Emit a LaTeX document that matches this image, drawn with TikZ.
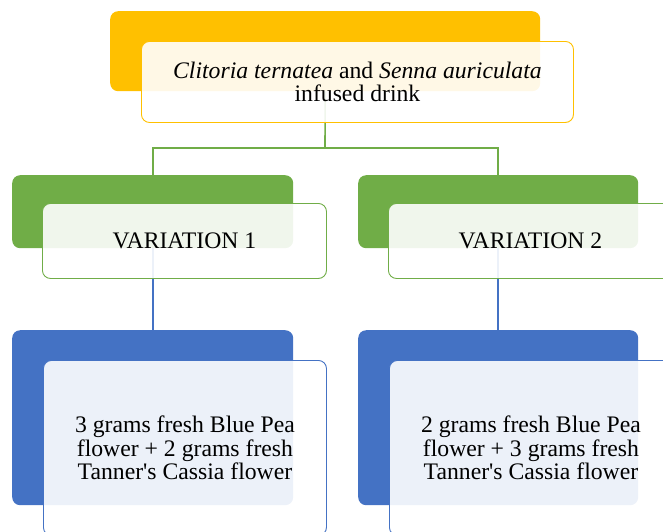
\documentclass[tikz,border=0pt]{standalone}
\usepackage{fontspec}
\setmainfont{Liberation Serif}[Ligatures=TeXOff]
\definecolor{cOrange}{HTML}{FFC000}
\definecolor{cGreen}{HTML}{70AD47}
\definecolor{cBlue}{HTML}{4472C4}
\tikzset{
  back/.style={draw=none, rounded corners=8pt, inner sep=0pt, anchor=north west},
  front/.style={rounded corners=8pt, inner sep=0pt, anchor=north west, fill=white, fill opacity=0.9, text opacity=1, line width=0.9pt, align=center, font=\rmfamily\fontsize{23.7}{23.5}\selectfont},
  conn/.style={line width=1.6pt}
}
\begin{document}
\begin{tikzpicture}[x=1pt,y=-1pt]
\useasboundingbox (0,0) rectangle (663,531);
\clip (0,0) rectangle (663,531);
% back boxes
\node[back, fill=cOrange, minimum width=430pt, minimum height=80pt] (topback) at (110,11) {};
\node[back, fill=cGreen, minimum width=281pt, minimum height=73pt] (v1back) at (12,175) {};
\node[back, fill=cGreen, minimum width=280pt, minimum height=73pt] (v2back) at (358,175) {};
\node[back, fill=cBlue, minimum width=281pt, minimum height=175pt] (d1back) at (12,330) {};
\node[back, fill=cBlue, minimum width=280pt, minimum height=175pt] (d2back) at (358,330) {};
% connectors
\coordinate (hj) at (325,148);
\draw[conn, cGreen] (topback.south) -- (hj);
\draw[conn, cGreen] (hj) -| (v1back.north);
\draw[conn, cGreen] (hj) -| (v2back.north);
\draw[conn, cBlue] (v1back.south) -- (d1back.north);
\draw[conn, cBlue] (v2back.south) -- (d2back.north);
% front boxes
\node[front, draw=cOrange, minimum width=432pt, minimum height=81pt] (topfront) at (141,41)
  {\textit{Clitoria ternatea} and \textit{Senna auriculata}\\infused drink};
\node[front, draw=cGreen, minimum width=284pt, minimum height=75pt] (v1front) at (42,203) {VARIATION 1};
\node[front, draw=cGreen, minimum width=284pt, minimum height=75pt] (v2front) at (388,203) {VARIATION 2};
\node[front, draw=cBlue, minimum width=283pt, minimum height=175pt] (d1front) at (43,360)
  {3 grams fresh Blue Pea\\flower + 2 grams fresh\\Tanner's Cassia flower};
\node[front, draw=cBlue, minimum width=283pt, minimum height=175pt] (d2front) at (389,360)
  {2 grams fresh Blue Pea\\flower + 3 grams fresh\\Tanner's Cassia flower};
\end{tikzpicture}
\end{document}
